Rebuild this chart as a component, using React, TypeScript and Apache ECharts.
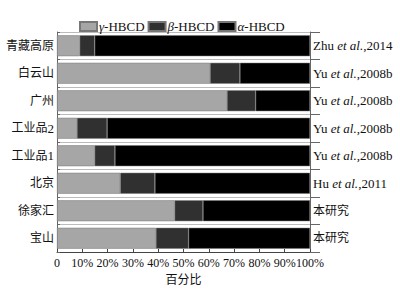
import React, { useEffect, useRef } from "react";
import * as echarts from "echarts";

const categories = ["青藏高原", "白云山", "广州", "工业品2", "工业品1", "北京", "徐家汇", "宝山"];
const refAuthors = ["Zhu", "Yu", "Yu", "Yu", "Yu", "Hu", "", ""];
const refYears = [",2014", ",2008b", ",2008b", ",2008b", ",2008b", ",2011", "", ""];
const refPlain = ["", "", "", "", "", "", "本研究", "本研究"];
const gammaVals = [9, 60.5, 67.2, 7.9, 14.9, 25, 46.5, 39.1];
const betaVals = [5.9, 11.8, 11.3, 11.9, 8.0, 13.7, 11.2, 12.9];
const alphaVals = gammaVals.map((g, i) => 100 - g - betaVals[i]);

const FONT = "'Liberation Serif', 'Noto Sans CJK SC', serif";
const FS = 13;
const CJK = 12;

export default function App() {
  const ref = useRef<HTMLDivElement>(null);
  useEffect(() => {
    const chart = echarts.init(ref.current!, null, { renderer: "svg" });
    const barStyle = { borderColor: "#777", borderWidth: 0.5 };
    chart.setOption({
      animation: false,
      textStyle: { fontFamily: FONT },
      legend: {
        top: 15,
        left: 74,
        icon: "rect",
        itemWidth: 17,
        itemHeight: 9,
        itemGap: 3,
        textStyle: {
          fontFamily: FONT,
          fontSize: FS,
          color: "#111",
          padding: [0, 0, 0, -3],
          rich: {
            i: { fontFamily: FONT, fontStyle: "italic", fontSize: FS, color: "#111" },
            n: { fontFamily: FONT, fontSize: FS, color: "#111" },
          },
        },
        formatter: (name: string) => {
          const g = name.charAt(0);
          return "{i|" + g + "}{n|" + name.slice(1) + "}";
        },
        data: ["γ-HBCD", "β-HBCD", "α-HBCD"],
      },
      grid: { left: 57, right: 90, top: 32, bottom: 39 },
      xAxis: {
        type: "value",
        min: 0,
        max: 100,
        interval: 10,
        name: "百分比",
        nameLocation: "middle",
        nameGap: 22,
        nameTextStyle: { fontFamily: FONT, fontSize: CJK, color: "#111" },
        axisLine: { show: true, lineStyle: { color: "#444", width: 1 } },
        axisTick: { show: true, inside: true, length: 3, lineStyle: { color: "#444" } },
        splitLine: { show: false },
        axisLabel: {
          fontFamily: FONT,
          fontSize: 12,
          color: "#111",
          margin: 5,
          hideOverlap: false,
          formatter: (v: number) => (v === 0 ? "0" : v + "%"),
        },
      },
      yAxis: [
        {
          type: "category",
          inverse: true,
          data: categories,
          axisLine: { show: true, lineStyle: { color: "#666", width: 1 } },
          axisTick: { show: true, inside: true, length: 3, lineStyle: { color: "#666" } },
          splitLine: { show: true, lineStyle: { color: "#aaa", width: 0.8 } },
          axisLabel: {
            fontFamily: FONT,
            color: "#111",
            margin: 3,
            formatter: (v: string) => {
              const m = v.match(/^(.*?)(\d*)$/);
              const base = m ? m[1] : v;
              const num = m ? m[2] : "";
              return "{c|" + base + "}" + (num ? "{n|" + num + "}" : "");
            },
            rich: {
              c: { fontFamily: FONT, fontSize: CJK, color: "#111" },
              n: { fontFamily: FONT, fontSize: FS, color: "#111" },
            },
          },
        },
        {
          type: "category",
          inverse: true,
          position: "right",
          data: categories.map((_, i) => String(i)),
          axisLine: { show: true, lineStyle: { color: "#666", width: 1 } },
          axisTick: { show: true, inside: false, length: 10, lineStyle: { color: "#666" } },
          axisLabel: {
            margin: 3,
            fontFamily: FONT,
            color: "#111",
            formatter: (v: string) => {
              const i = Number(v);
              if (refPlain[i]) return "{c|" + refPlain[i] + "}";
              return "{n|" + refAuthors[i] + " }{i|et al.}{n|" + refYears[i] + "}";
            },
            rich: {
              c: { fontFamily: FONT, fontSize: CJK, color: "#111" },
              n: { fontFamily: FONT, fontSize: FS, color: "#111" },
              i: { fontFamily: FONT, fontSize: FS, fontStyle: "italic", color: "#111" },
            },
          },
        },
      ],
      series: [
        {
          name: "γ-HBCD",
          type: "bar",
          stack: "t",
          data: gammaVals,
          barCategoryGap: "24%",
          itemStyle: { color: "#a6a6a6", ...barStyle },
        },
        {
          name: "β-HBCD",
          type: "bar",
          stack: "t",
          data: betaVals,
          itemStyle: { color: "#303030", ...barStyle },
        },
        {
          name: "α-HBCD",
          type: "bar",
          stack: "t",
          data: alphaVals,
          itemStyle: { color: "#000000", ...barStyle },
        },
      ],
    });
    return () => chart.dispose();
  }, []);
  return <div ref={ref} style={{ width: 400, height: 291, position: "absolute", left: 0, top: 0 }} />;
}
